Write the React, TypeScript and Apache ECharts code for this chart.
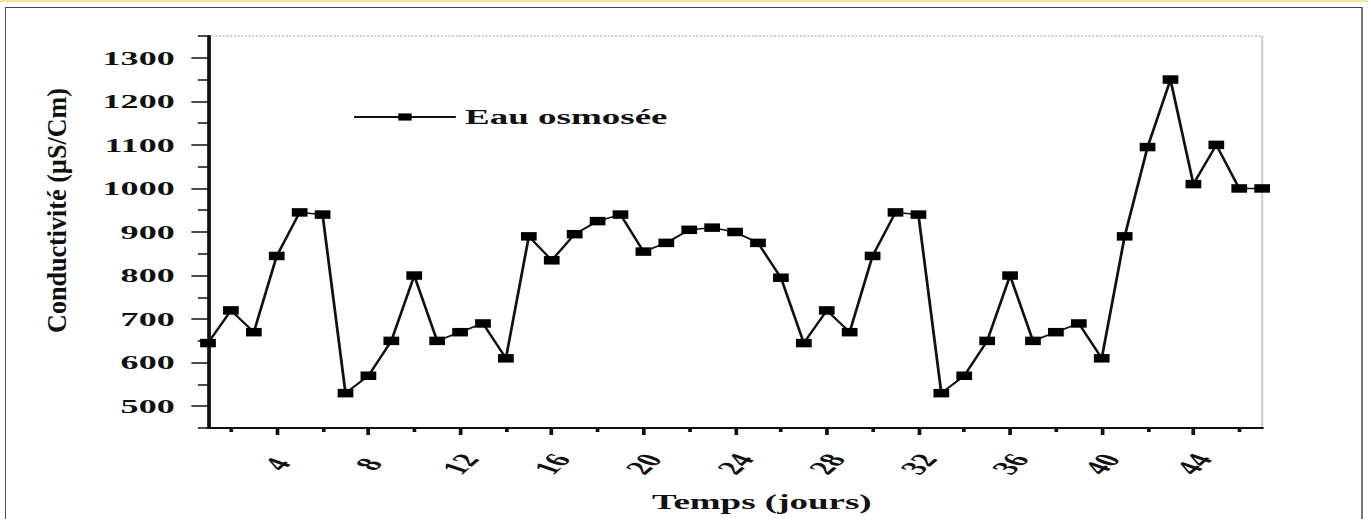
import React, { useEffect, useRef } from 'react';
import * as echarts from 'echarts';

const days = [1, 2, 3, 4, 5, 6, 7, 8, 9, 10, 11, 12, 13, 14, 15, 16, 17, 18, 19, 20, 21, 22, 23, 24, 25, 26, 27, 28, 29, 30, 31, 32, 33, 34, 35, 36, 37, 38, 39, 40, 41, 42, 43, 44, 45, 46, 47];
const conductivity = [645, 720, 670, 845, 945, 940, 530, 570, 650, 800, 650, 670, 690, 610, 890, 835, 895, 925, 940, 855, 875, 905, 910, 900, 875, 795, 645, 720, 670, 845, 945, 940, 530, 570, 650, 800, 650, 670, 690, 610, 890, 1095, 1250, 1010, 1100, 1000, 1000];
const yMajorTicks = [500, 600, 700, 800, 900, 1000, 1100, 1200, 1300];
const yMinorTicks = [450, 550, 650, 750, 850, 950, 1050, 1150, 1250, 1350];
const xMajorTicks = [4, 8, 12, 16, 20, 24, 28, 32, 36, 40, 44];
const xMinorTicks = [2, 6, 10, 14, 18, 22, 26, 30, 34, 38, 42, 46];
const seriesName = 'Eau osmosée';
const xTitle = 'Temps (jours)';
const yTitle = 'Conductivité (µS/Cm)';

const S = 1.85; // horizontal stretch of the picture
const W = 1368;
const H = 519;
const FONT = "'Liberation Serif', 'Times New Roman', serif";

export default function App() {
  const ref = useRef<HTMLDivElement>(null);

  useEffect(() => {
    if (!ref.current) return;
    const chart = echarts.init(ref.current, null, { renderer: 'svg' });

    const cv = document.createElement('canvas').getContext('2d');
    let titleW = 140;
    if (cv) {
      cv.font = `bold 15px ${FONT}`;
      titleW = cv.measureText(yTitle).width;
    }

    const data = days.map((d, i) => [d, conductivity[i]]);

    chart.setOption({
      animation: false,
      backgroundColor: 'transparent',
      grid: {
        left: 208 / S,
        right: (W - 1263) / S,
        top: 36,
        bottom: H - 428,
        show: true,
        borderColor: '#999',
        borderWidth: 1,
        borderType: 'dotted',
        backgroundColor: 'transparent',
      },
      legend: {
        left: 343 / S,
        top: 102,
        itemWidth: 55,
        itemHeight: 9,
        data: [seriesName],
        textStyle: { fontFamily: FONT, fontWeight: 'bold', fontSize: 20, color: '#111' },
      },
      xAxis: [
        {
          type: 'value',
          min: 1,
          max: 47,
          position: 'bottom',
          name: xTitle,
          nameLocation: 'middle',
          nameGap: 64,
          nameTextStyle: { fontFamily: FONT, fontWeight: 'bold', fontSize: 20, color: '#111', padding: [0, 0, 0, 29] },
          axisLine: { show: true, onZero: false, lineStyle: { color: '#111', width: 2 } },
          axisTick: { show: true, customValues: xMajorTicks, length: 7, lineStyle: { color: '#111', width: 2 } },
          axisLabel: {
            customValues: xMajorTicks,
            formatter: (v: number) => String(v),
            rotate: 58,
            align: 'center',
            verticalAlign: 'middle',
            margin: 36,
            fontFamily: FONT,
            fontWeight: 'bold',
            fontSize: 19.5,
            color: '#111',
          },
          splitLine: { show: false },
        },
        {
          type: 'value',
          min: 1,
          max: 47,
          position: 'bottom',
          axisLine: { show: false },
          axisTick: { show: true, customValues: xMinorTicks, length: 4, lineStyle: { color: '#111', width: 2 } },
          axisLabel: { show: false },
          splitLine: { show: false },
        },
      ],
      yAxis: [
        {
          type: 'value',
          min: 450,
          max: 1350,
          position: 'left',
          axisLine: { show: true, onZero: false, lineStyle: { color: '#111', width: 2 } },
          axisTick: { show: true, customValues: yMajorTicks, length: 9, lineStyle: { color: '#111', width: 1.5 } },
          axisLabel: {
            customValues: yMajorTicks,
            formatter: (v: number) => String(v),
            margin: 18,
            fontFamily: FONT,
            fontWeight: 'bold',
            fontSize: 19.5,
            color: '#111',
          },
          splitLine: { show: false },
        },
        {
          type: 'value',
          min: 450,
          max: 1350,
          position: 'left',
          axisLine: { show: false },
          axisTick: { show: true, customValues: yMinorTicks, length: 5.5, lineStyle: { color: '#111', width: 1.5 } },
          axisLabel: { show: false },
          splitLine: { show: false },
        },
      ],
      graphic: [
        {
          type: 'text',
          x: 57 / S,
          y: 210.5,
          rotation: Math.PI / 2,
          scaleX: 245 / titleW,
          style: {
            text: yTitle,
            font: `bold 15px ${FONT}`,
            fill: '#111',
            align: 'center',
            verticalAlign: 'middle',
          },
        },
      ],
      series: [
        {
          name: seriesName,
          type: 'line',
          xAxisIndex: 0,
          yAxisIndex: 0,
          data,
          symbol: 'rect',
          symbolSize: 8.5,
          itemStyle: { color: '#000' },
          lineStyle: { color: '#111', width: 1.5 },
          emphasis: { disabled: true },
        },
      ],
    });

    return () => chart.dispose();
  }, []);

  return (
    <div style={{ position: 'fixed', left: 0, top: 0, width: W, height: H, overflow: 'hidden', background: '#fff' }}>
      <div style={{ position: 'absolute', left: 0, top: 0, width: W, height: 2, background: '#f8e69c' }} />
      <div
        style={{
          position: 'absolute',
          left: 5,
          top: 7,
          width: 1355,
          height: 600,
          borderTop: '1px solid #444',
          borderLeft: '1px solid #555',
          borderRight: '2px solid #777',
        }}
      />
      <div
        ref={ref}
        style={{
          position: 'absolute',
          left: 0,
          top: 0,
          width: W / S,
          height: H,
          transform: `scaleX(${S})`,
          transformOrigin: '0 0',
        }}
      />
    </div>
  );
}
